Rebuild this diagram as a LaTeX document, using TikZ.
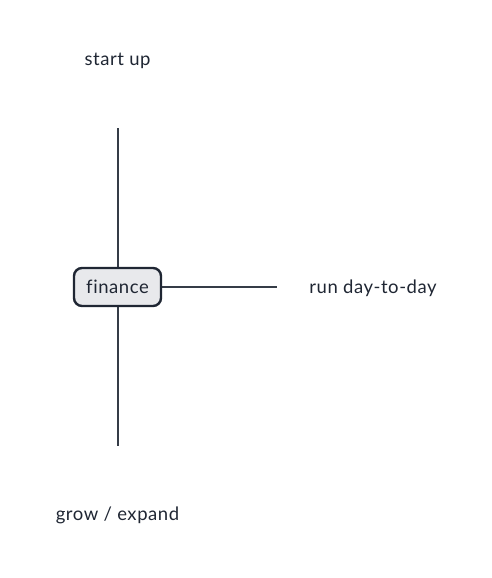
\documentclass[tikz,border=0pt]{standalone}
\usepackage{fontspec}
\setmainfont{Lato}[Ligatures=NoCommon,LetterSpace=3]
\definecolor{ink}{HTML}{1F2633}
\definecolor{boxfill}{HTML}{E8E9EC}
\tikzset{
  branch/.style={draw=ink!90, line width=1.8pt},
  rootbox/.style={draw=ink, fill=boxfill, line width=2.4pt, rounded corners=8pt,
    minimum width=87pt, minimum height=38pt, inner sep=0pt, text=ink, font=\fontsize{18.5}{20}\selectfont},
  leaf/.style={text=ink, font=\fontsize{18.5}{20}\selectfont, inner sep=0pt}
}
\begin{document}
\begin{tikzpicture}[x=1pt,y=-1pt]
\useasboundingbox (0,0) rectangle (491,578);
\node[leaf] (startup) at (117.5,61) {start up};
\node[leaf] (runday) at (373,288) {run day-to-day};
\node[leaf] (grow) at (117.5,515) {grow / expand};
\coordinate (startupend) at (118,128);
\coordinate (rundayend) at (277,287);
\coordinate (growend) at (118,446);
\draw[branch] (118,287) -- (startupend);
\draw[branch] (118,287) -- (growend);
\draw[branch] (118,287) -- (rundayend);
\node[rootbox] (finance) at (117.5,287) {finance};
\end{tikzpicture}
\end{document}
